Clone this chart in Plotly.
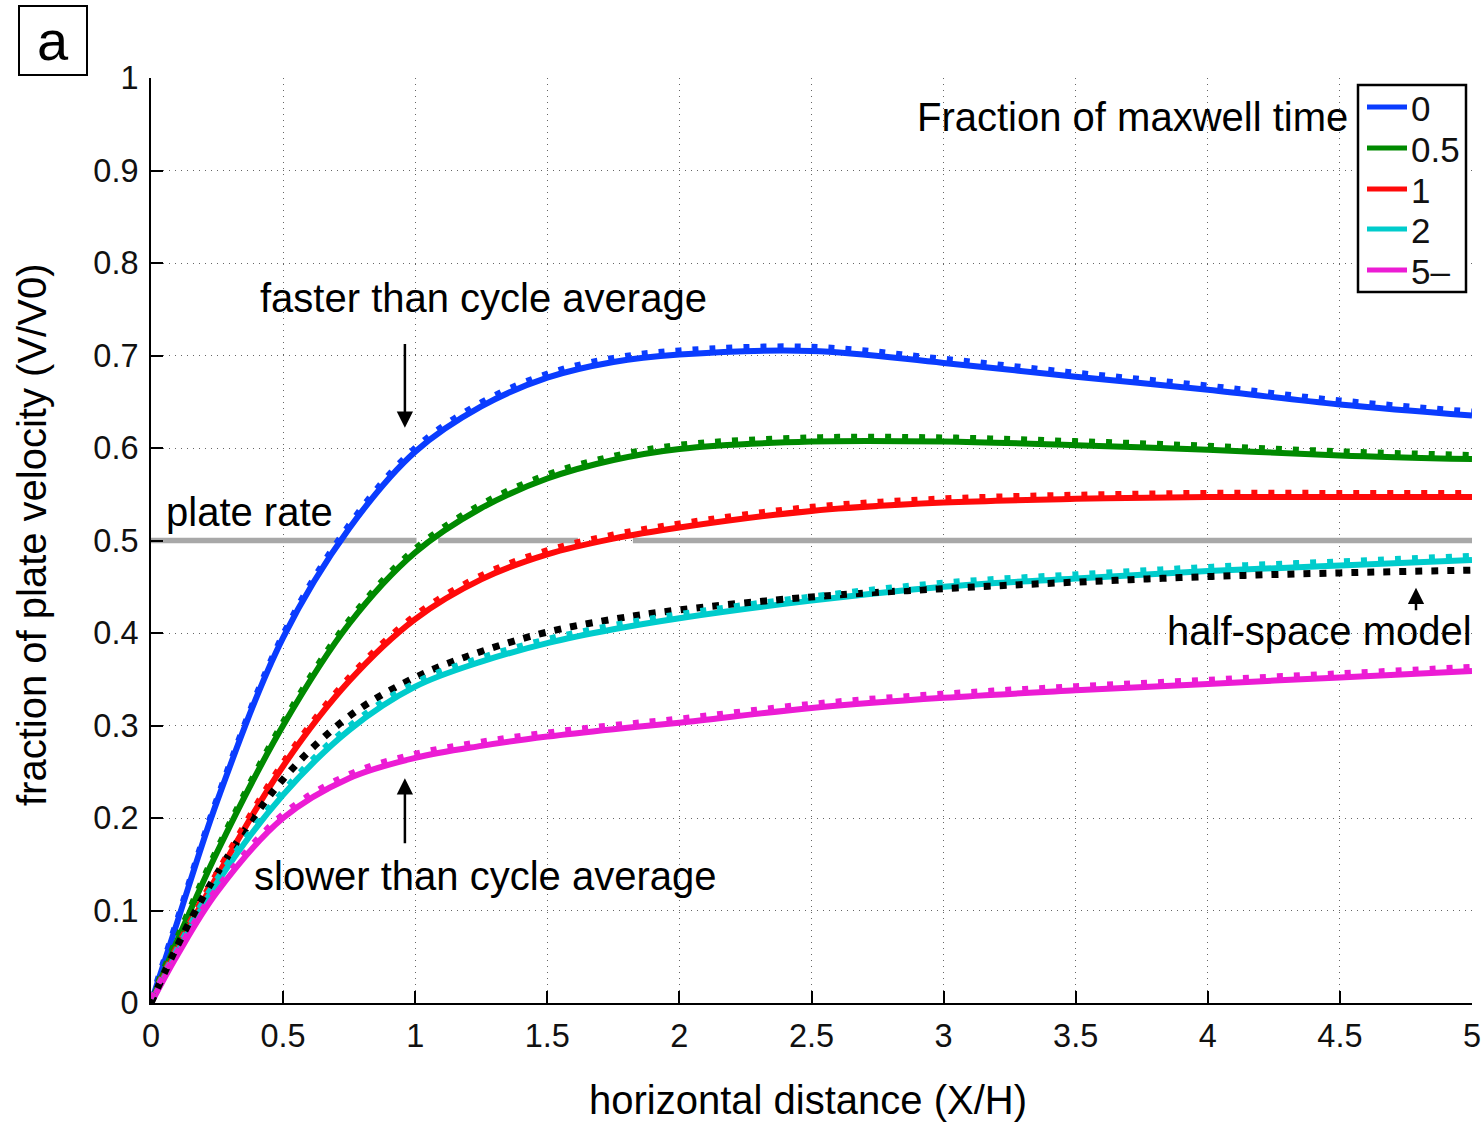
import plotly.graph_objects as go

# horizontal distance X/H at which each curve is sampled
x_dist = [0, 0.1, 0.25, 0.5, 0.75, 1, 1.25, 1.5, 1.75, 2, 2.5, 3, 3.5, 4, 4.5, 5]

# fraction of plate velocity V/V0 for each fraction of the Maxwell time
v_t0 = [0, 0.088, 0.218, 0.395, 0.513, 0.596, 0.645, 0.676, 0.693, 0.701, 0.705, 0.692, 0.677, 0.663, 0.647, 0.635]
v_t05 = [0, 0.068, 0.163, 0.300, 0.410, 0.487, 0.535, 0.567, 0.587, 0.599, 0.607, 0.607, 0.603, 0.598, 0.592, 0.588]
v_t1 = [0, 0.058, 0.137, 0.256, 0.348, 0.415, 0.458, 0.485, 0.502, 0.514, 0.532, 0.541, 0.545, 0.547, 0.547, 0.547]
v_t2 = [0, 0.055, 0.130, 0.225, 0.295, 0.342, 0.369, 0.389, 0.404, 0.416, 0.435, 0.450, 0.459, 0.467, 0.473, 0.479]
v_t5 = [0, 0.052, 0.120, 0.200, 0.243, 0.265, 0.278, 0.288, 0.296, 0.303, 0.319, 0.330, 0.338, 0.345, 0.352, 0.359]

# elastic half-space reference model
v_halfspace = [0, 0.062, 0.140, 0.242, 0.310, 0.352, 0.380, 0.401, 0.415, 0.425, 0.439, 0.448, 0.455, 0.461, 0.465, 0.468]

# plate rate line (segments separated by None)
plate_x = [0, 1.005, None, 1.087, 1.616, None, 1.824, 5]
plate_y = [0.5, 0.5, None, 0.5, 0.5, None, 0.5, 0.5]

series_names = ["0", "0.5", "1", "2", "5\u2013"]
series_values = [v_t0, v_t05, v_t1, v_t2, v_t5]
series_colors = ["#0a3cff", "#008a00", "#ff0a0a", "#00cccc", "#ec1cd4"]

FONT = "Liberation Sans, Arial, Helvetica, sans-serif"

# page geometry of the plotting area (pixels)
W, H = 1484, 1122
PL, PR, PT, PB = 151, 1472, 78, 1003


def px_x(p):
    return (p - PL) / (PR - PL)


def px_y(p):
    return (PB - p) / (PB - PT)


fig = go.Figure()

fig.add_trace(go.Scatter(
    x=plate_x, y=plate_y, mode="lines", showlegend=False,
    line=dict(color="#a8a8a8", width=5.5), connectgaps=False, hoverinfo="skip"))

# solid curves
for name, vals, col in zip(series_names, series_values, series_colors):
    fig.add_trace(go.Scatter(
        x=x_dist, y=vals, mode="lines", name=name, showlegend=False,
        line=dict(color=col, width=6, shape="spline", smoothing=1)))

# dotted companions, drawn on a slightly shifted overlay axis
for name, vals, col in zip(series_names, series_values, series_colors):
    fig.add_trace(go.Scatter(
        x=x_dist, y=vals, mode="lines", showlegend=False, yaxis="y2",
        line=dict(color=col, width=5, dash="6px,11px", shape="spline", smoothing=1)))

fig.add_trace(go.Scatter(
    x=x_dist, y=v_halfspace, mode="lines", showlegend=False, name="half-space",
    line=dict(color="black", width=7, dash="7px,9px", shape="spline", smoothing=1)))

axis_common = dict(
    showline=True, linecolor="black", linewidth=2,
    ticks="inside", ticklen=12, tickwidth=2, tickcolor="black",
    showgrid=True, gridcolor="#666666", gridwidth=1, griddash="1px,5px",
    zeroline=False, mirror=False, automargin=False,
    tickfont=dict(family=FONT, size=32.5, color="#111111"),
)

fig.update_layout(
    width=W, height=H,
    margin=dict(l=PL, r=W - PR, t=PT, b=H - PB, autoexpand=False),
    paper_bgcolor="white", plot_bgcolor="white",
    font=dict(family=FONT, color="black"),
    xaxis=dict(range=[0, 5], tickvals=[0, 0.5, 1, 1.5, 2, 2.5, 3, 3.5, 4, 4.5, 5],
               ticktext=["0", "0.5", "1", "1.5", "2", "2.5", "3", "3.5", "4", "4.5", "5"],
               ticklabelstandoff=3, **axis_common),
    yaxis=dict(range=[0, 1], tickvals=[i / 10 for i in range(11)],
               ticktext=["0", "0.1", "0.2", "0.3", "0.4", "0.5", "0.6", "0.7", "0.8", "0.9", "1"],
               ticklabelstandoff=4, **axis_common),
    yaxis2=dict(range=[-0.005, 0.995], overlaying="y", visible=False, showgrid=False),
    showlegend=False,
)

text_font = dict(family=FONT, size=40, color="black")

# axis titles
fig.add_annotation(text="horizontal distance (X/H)", xref="paper", yref="paper",
                   x=px_x(808), y=px_y(1100), xanchor="center", yanchor="middle",
                   showarrow=False, font=text_font)
fig.add_annotation(text="fraction of plate velocity (V/V0)", xref="paper", yref="paper",
                   x=px_x(32), y=px_y(535), xanchor="center", yanchor="middle",
                   textangle=-90, showarrow=False, font=text_font)

# panel letter
fig.add_annotation(text="a", xref="paper", yref="paper", x=px_x(53), y=px_y(41),
                   showarrow=False, font=dict(family=FONT, size=56, color="black"),
                   bordercolor="black", borderwidth=2, borderpad=0, width=66, height=67,
                   xanchor="center", yanchor="middle")

# legend box drawn by hand
fig.add_shape(type="rect", xref="paper", yref="paper",
              x0=px_x(1358), x1=px_x(1466), y0=px_y(292), y1=px_y(85),
              line=dict(color="black", width=2.5), fillcolor="white", layer="above")
legend_rows = [107, 148, 189, 229, 270]
for name, col, row in zip(series_names, series_colors, legend_rows):
    fig.add_shape(type="line", xref="paper", yref="paper",
                  x0=px_x(1367), x1=px_x(1407), y0=px_y(row), y1=px_y(row),
                  line=dict(color=col, width=5), layer="above")
    fig.add_annotation(text=name, xref="paper", yref="paper",
                       x=px_x(1409), y=px_y(row + 1), xanchor="left", yanchor="middle",
                       showarrow=False, font=dict(family=FONT, size=35, color="#111111"))

fig.add_annotation(text="Fraction of maxwell time", xref="paper", yref="paper",
                   x=px_x(1350), y=px_y(117), xanchor="right", yanchor="middle",
                   showarrow=False, font=text_font)
fig.add_annotation(text="faster than cycle average", x=1.26, y=0.762, xanchor="center",
                   yanchor="middle", showarrow=False, font=text_font)
fig.add_annotation(text="plate rate", x=0.05, y=0.531, xanchor="left",
                   yanchor="middle", showarrow=False, font=text_font)
fig.add_annotation(text="slower than cycle average", x=1.264, y=0.137, xanchor="center",
                   yanchor="middle", showarrow=False, font=text_font)
fig.add_annotation(text="half-space model", xref="paper", x=px_x(1474), y=0.402,
                   xanchor="right", yanchor="middle", showarrow=False, font=text_font)

# arrows pointing at the curves
for hx, hy, ty in [(0.961, 0.622, 0.714), (0.961, 0.243, 0.171), (4.788, 0.449, 0.423)]:
    fig.add_annotation(text="", x=hx, y=hy, ax=hx, ay=ty, axref="x", ayref="y",
                       showarrow=True, arrowhead=2, arrowsize=1.3, arrowwidth=2.5,
                       arrowcolor="black")

fig.write_html("out.html")
